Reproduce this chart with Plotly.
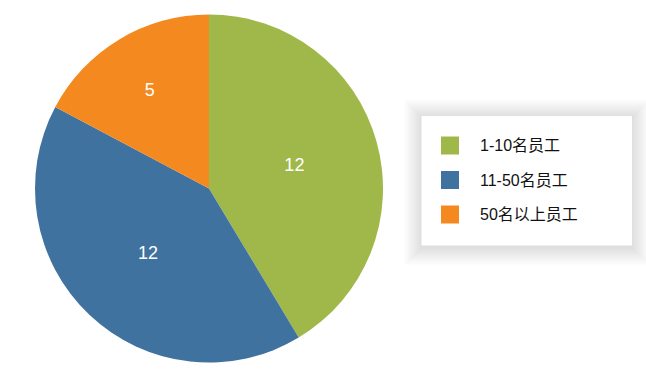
import plotly.graph_objects as go

labels = ["1-10名员工", "11-50名员工", "50名以上员工"]
values = [12, 12, 5]
colors = ["#A0B84A", "#4072A0", "#F4891F"]

W, H = 646, 371

def px(x):
    return x / W

def py(y):
    return 1 - y / H

cx, cy, r = 209, 188.5, 174

fig = go.Figure()
fig.add_trace(go.Pie(
    labels=labels,
    values=values,
    marker=dict(colors=colors, line=dict(color="white", width=0)),
    sort=False,
    direction="clockwise",
    rotation=0,
    textinfo="value",
    textposition="inside",
    insidetextfont=dict(color="white", size=18, family="Liberation Sans, Arial, sans-serif"),
    hoverinfo="label+value",
    showlegend=False,
    domain=dict(x=[px(cx - r), px(cx + r)], y=[py(cy + r), py(cy - r)]),
))

shapes = []
# legend box shadow
bx0, by0, bx1, by1 = 421.5, 116, 632, 245.5
for i in range(16, 0, -1):
    d = i * 1.1
    shapes.append(dict(type="rect", xref="paper", yref="paper",
                       x0=px(bx0 - d), x1=px(bx1 + d), y0=py(by1 + d + 2), y1=py(by0 - d + 1),
                       fillcolor="rgba(0,0,0,0.006)", line=dict(width=0), layer="below"))
shapes.append(dict(type="rect", xref="paper", yref="paper",
                   x0=px(bx0), x1=px(bx1), y0=py(by1), y1=py(by0),
                   fillcolor="white", line=dict(width=0), layer="below"))

annotations = []
row_y = [145.5, 180, 214.5]
for lab, col, yy in zip(labels, colors, row_y):
    shapes.append(dict(type="rect", xref="paper", yref="paper",
                       x0=px(441), x1=px(459), y0=py(yy + 9), y1=py(yy - 9),
                       fillcolor=col, line=dict(width=0)))
    annotations.append(dict(xref="paper", yref="paper", x=px(478), y=py(yy),
                            text=lab, showarrow=False, xanchor="left", yanchor="middle",
                            font=dict(size=16, color="#111111",
                                      family="Liberation Sans, Noto Sans CJK SC, sans-serif")))

fig.update_layout(
    width=W, height=H,
    margin=dict(l=0, r=0, t=0, b=0),
    paper_bgcolor="white",
    plot_bgcolor="white",
    shapes=shapes,
    annotations=annotations,
)

fig.write_html("out.html", config={"displayModeBar": False},
               post_script="document.body.style.margin='0';")
